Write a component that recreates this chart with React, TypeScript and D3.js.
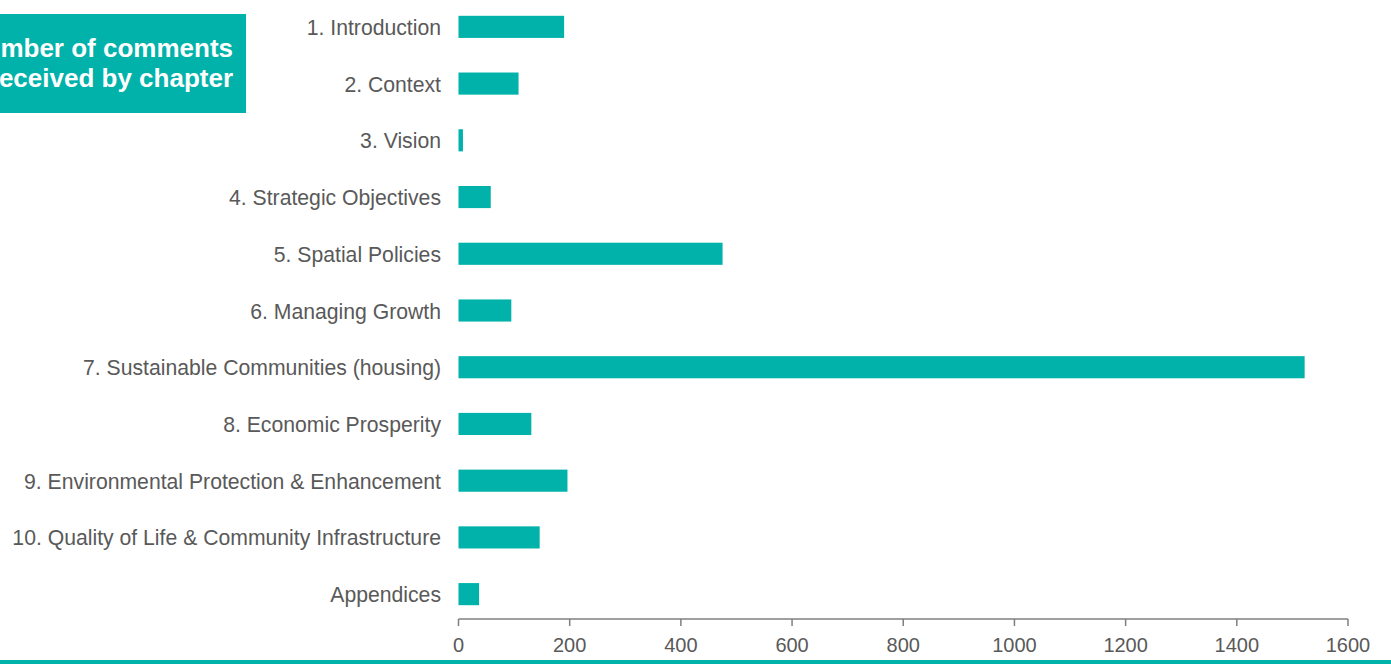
import React from "react";
import * as d3 from "d3";

const categories = [
  "1. Introduction",
  "2. Context",
  "3. Vision",
  "4. Strategic Objectives",
  "5. Spatial Policies",
  "6. Managing Growth",
  "7. Sustainable Communities (housing)",
  "8. Economic Prosperity",
  "9. Environmental Protection & Enhancement",
  "10. Quality of Life & Community Infrastructure",
  "Appendices",
];
const values = [190, 108, 8, 58, 475, 95, 1522, 131, 196, 146, 37];
const xTicks = [0, 200, 400, 600, 800, 1000, 1200, 1400, 1600];
const titleLines = ["Number of comments", "received by chapter"];

const W = 1391;
const H = 664;
const TEAL = "#00b2a9";
const GRAY = "#595959";

export default function App() {
  const x = d3.scaleLinear().domain([0, 1600]).range([458.5, 1348]);
  const y = d3
    .scaleBand<string>()
    .domain(categories)
    .range([-1.5, 622.5])
    .paddingInner(0.61)
    .paddingOuter(0.305);
  const axisY = 619;
  const font = "'Liberation Sans', Arial, Helvetica, sans-serif";
  return (
    <svg
      width={W}
      height={H}
      style={{ position: "absolute", left: 0, top: 0, display: "block" }}
      fontFamily={font}
    >
      <rect x={0} y={0} width={W} height={H} fill="#fff" />
      {categories.map((c, i) => (
        <g key={c}>
          <rect
            x={x(0)}
            y={y(c)!}
            width={x(values[i]) - x(0)}
            height={y.bandwidth()}
            fill={TEAL}
          />
          <text
            x={441}
            y={y(c)! + y.bandwidth() / 2 + 8}
            textAnchor="end"
            fontSize={21.2}
            fill={GRAY}
          >
            {c}
          </text>
        </g>
      ))}
      <line x1={x(0)} x2={x(1600)} y1={axisY} y2={axisY} stroke="#7f7f7f" strokeWidth={1.5} />
      {xTicks.map((t) => (
        <g key={t}>
          <line x1={x(t)} x2={x(t)} y1={axisY} y2={axisY + 7} stroke="#7f7f7f" strokeWidth={1.5} />
          <text x={x(t)} y={652} textAnchor="middle" fontSize={20} fill={GRAY}>
            {t}
          </text>
        </g>
      ))}
      <rect x={0} y={660} width={W} height={4} fill={TEAL} />
      <rect x={-200} y={14} width={446} height={99} fill={TEAL} />
      {titleLines.map((l, i) => (
        <text
          key={l}
          x={233}
          y={57 + i * 30}
          textAnchor="end"
          fontSize={26}
          fontWeight="bold"
          fill="#fff"
        >
          {l}
        </text>
      ))}
    </svg>
  );
}
